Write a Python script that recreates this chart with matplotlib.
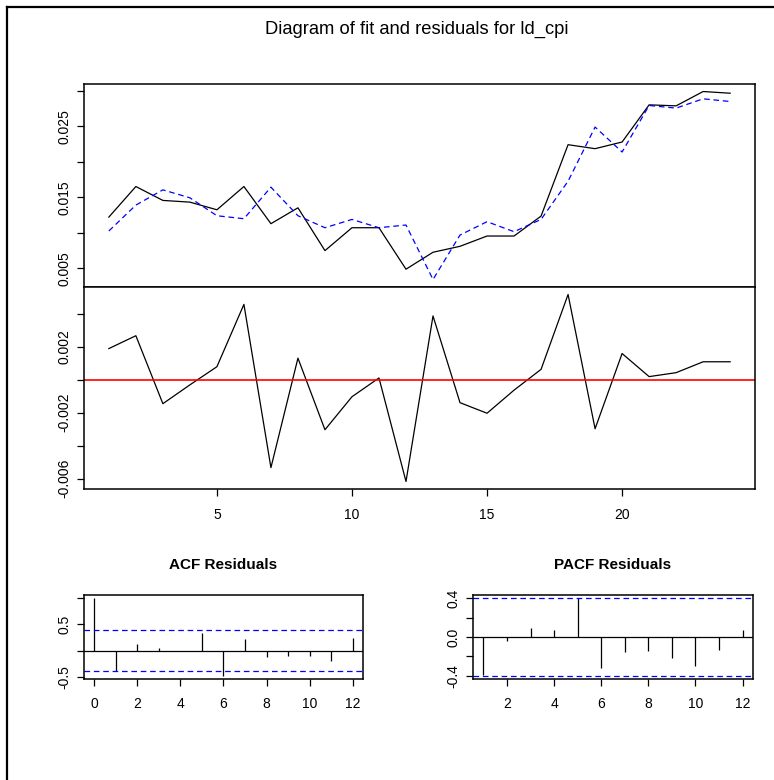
import numpy as np
import matplotlib
matplotlib.use("Agg")
import matplotlib.pyplot as plt
from matplotlib.lines import Line2D

plt.rcParams["font.family"] = ["Liberation Sans", "DejaVu Sans"]

# ---- data ----
t = np.arange(1, 25)
actual = [0.01221, 0.01652, 0.01456, 0.01432, 0.01324, 0.01652, 0.01128, 0.01352,
          0.00748, 0.01071, 0.01071, 0.00486, 0.00725, 0.00809, 0.00954, 0.00954,
          0.01235, 0.02242, 0.02186, 0.02280, 0.02804, 0.02790, 0.02992, 0.02968]
fitted = [0.01025, 0.01390, 0.01605, 0.01493, 0.01240, 0.01198, 0.01643, 0.01240,
          0.01071, 0.01188, 0.01071, 0.01109, 0.00341, 0.00968, 0.01156, 0.01015,
          0.01188, 0.01727, 0.02491, 0.02139, 0.02795, 0.02758, 0.02889, 0.02851]
resid = [0.00188, 0.00266, -0.00146, -0.00032, 0.00078, 0.00456, -0.00534, 0.00130,
         -0.00304, -0.00104, 0.00010, -0.00618, 0.00386, -0.00140, -0.00204, -0.00064,
         0.00062, 0.00516, -0.00298, 0.00158, 0.00018, 0.00042, 0.00108, 0.00108]

acf_lags = np.arange(0, 13)
acf_vals = [1.0, -0.39, 0.127, 0.057, 0.0, 0.338, -0.484, 0.217,
            -0.121, -0.096, -0.096, -0.204, 0.242]
pacf_lags = np.arange(1, 13)
pacf_vals = [-0.395, -0.042, 0.091, 0.067, 0.40, -0.319, -0.154, -0.144,
             -0.218, -0.295, -0.130, 0.070]
conf = 0.40

W, H = 774, 780
LW_FRAME = 1.1
TICK_FS = 10


def px_axes(fig, x0, y0, x1, y1):
    """Axes from pixel box (top-left origin)."""
    return fig.add_axes([x0 / W, 1 - y1 / H, (x1 - x0) / W, (y1 - y0) / H])


def r_limits(vals, pad=0.04):
    lo, hi = min(vals), max(vals)
    span = hi - lo
    return lo - pad * span, hi + pad * span


def style(ax):
    for s in ax.spines.values():
        s.set_linewidth(LW_FRAME)
    ax.tick_params(direction="out", length=5, width=0.9, labelsize=TICK_FS, pad=4)
    for lab in ax.get_yticklabels():
        lab.set_rotation(90)
        lab.set_va("center")


def fmt(v, nd):
    return f"{v:.{nd}f}"


fig = plt.figure(figsize=(W / 100, H / 100), dpi=100)

# outer frame (left and top edges)
fig.add_artist(Line2D([7 / W, 7 / W], [0, 1 - 7 / H], color="black", lw=1.6,
                      transform=fig.transFigure))
fig.add_artist(Line2D([7 / W, 1], [1 - 7 / H, 1 - 7 / H], color="black", lw=1.6,
                      transform=fig.transFigure))

fig.text(417 / W, 1 - 29 / H, "Diagram of fit and residuals for ld_cpi",
         ha="center", va="center", fontsize=13.2)

# ---- panel 1: actual vs fitted ----
ax1 = px_axes(fig, 84, 84, 755, 287)
ax1.plot(t, actual, color="black", lw=0.9)
ax1.plot(t, fitted, color="blue", lw=0.9, dashes=(4.5, 3))
ax1.set_xlim(r_limits(t))
ax1.set_ylim(r_limits(actual + fitted))
ax1.set_xticks([])
yt = [0.005, 0.010, 0.015, 0.020, 0.025, 0.030]
ax1.set_yticks(yt)
ax1.set_yticklabels([fmt(v, 3) if v in (0.005, 0.015, 0.025) else "" for v in yt])
style(ax1)

# ---- panel 2: residuals ----
ax2 = px_axes(fig, 84, 287, 755, 489)
ax2.plot(t, resid, color="black", lw=0.9)
ax2.axhline(0, color="red", lw=1.2)
ax2.set_xlim(r_limits(t))
ax2.set_ylim(r_limits(resid))
ax2.set_xticks([5, 10, 15, 20])
yt2 = [-0.006, -0.004, -0.002, 0.0, 0.002, 0.004]
ax2.set_yticks(yt2)
ax2.set_yticklabels([fmt(v, 3) if v in (-0.006, -0.002, 0.002) else "" for v in yt2])
style(ax2)
ax2.tick_params(axis="x", pad=9)

# ---- ACF ----
ax3 = px_axes(fig, 84, 595, 363, 679)
ax3.vlines(acf_lags, 0, acf_vals, color="black", lw=0.9)
ax3.axhline(0, color="black", lw=0.9)
for c in (conf, -conf):
    ax3.axhline(c, color="blue", lw=0.9, dashes=(4.5, 3))
ax3.set_xlim(r_limits(acf_lags))
ax3.set_ylim(r_limits(acf_vals + [conf, -conf]))
ax3.set_xticks([0, 2, 4, 6, 8, 10, 12])
yt3 = [-0.5, 0.0, 0.5, 1.0]
ax3.set_yticks(yt3)
ax3.set_yticklabels([fmt(v, 1) if v in (-0.5, 0.5) else "" for v in yt3])
ax3.set_title("ACF Residuals", fontsize=11, fontweight="bold", pad=19)
style(ax3)
ax3.tick_params(axis="x", pad=8)

# ---- PACF ----
ax4 = px_axes(fig, 473, 595, 753, 679)
ax4.vlines(pacf_lags, 0, pacf_vals, color="black", lw=0.9)
ax4.axhline(0, color="black", lw=0.9)
for c in (conf, -conf):
    ax4.axhline(c, color="blue", lw=0.9, dashes=(4.5, 3))
ax4.set_xlim(r_limits(pacf_lags))
ax4.set_ylim(r_limits(pacf_vals + [conf, -conf]))
ax4.set_xticks([2, 4, 6, 8, 10, 12])
yt4 = [-0.4, -0.2, 0.0, 0.2, 0.4]
ax4.set_yticks(yt4)
ax4.set_yticklabels([fmt(v, 1) if v in (-0.4, 0.0, 0.4) else "" for v in yt4])
ax4.set_title("PACF Residuals", fontsize=11, fontweight="bold", pad=19)
style(ax4)
ax4.tick_params(axis="x", pad=8)

fig.savefig("out.png", dpi=100)
